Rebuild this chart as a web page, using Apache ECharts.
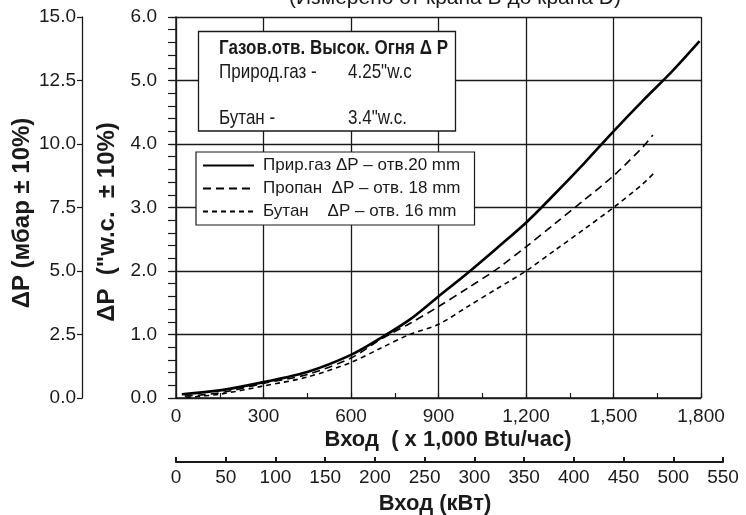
<!DOCTYPE html>
<html>
<head>
<meta charset="utf-8">
<script src="https://cdn.jsdelivr.net/npm/echarts@6/dist/echarts.min.js"></script>
<style>
  * { margin: 0; padding: 0; box-sizing: border-box; }
  body { background: #fff; }
  #chart { width: 746px; height: 515px; }
</style>
</head>
<body>
<div id="chart"></div>
<script>
// вход, x 1,000 Btu/час  /  ΔP, "w.c.
const gasInput = [20, 150, 300, 450, 600, 700, 800, 900, 1000, 1100, 1200, 1300, 1400, 1500, 1600, 1700, 1795]
const gasDp = [0.06, 0.12, 0.25, 0.41, 0.68, 0.94, 1.23, 1.6, 1.97, 2.36, 2.76, 3.22, 3.7, 4.2, 4.68, 5.14, 5.62]
const propaneInput = [30, 150, 300, 450, 600, 700, 800, 900, 1000, 1100, 1200, 1300, 1400, 1500, 1600, 1635]
const propaneDp = [0.03, 0.08, 0.23, 0.37, 0.63, 0.92, 1.17, 1.44, 1.73, 2.03, 2.38, 2.75, 3.12, 3.5, 3.95, 4.14]
const butaneInput = [35, 150, 300, 450, 600, 700, 800, 900, 1000, 1100, 1200, 1300, 1400, 1500, 1600, 1645]
const butaneDp = [0.01, 0.06, 0.19, 0.33, 0.56, 0.78, 1.0, 1.16, 1.44, 1.72, 2.0, 2.33, 2.66, 3.0, 3.37, 3.57]

const seriesNames = ['Прир.газ ΔP – отв.20 mm', 'Пропан  ΔP – отв. 18 mm', 'Бутан    ΔP – отв. 16 mm']
const boxTitle = 'Газов.отв. Высок. Огня Δ P'
const boxRows = [['Природ.газ -', '4.25"w.c'], ['Бутан -', '3.4"w.c.']]

const sans = '"Liberation Sans", Arial, sans-serif'
const ink = '#1a1a1a'
const squeeze = 0.81 // шрифт на картинке узкий, сжимаем по горизонтали

const pairs = (xs, ys) => xs.map((x, i) => [x, ys[i]])

const boxText = (x, y, text, bold) => ({
  type: 'text',
  x: x,
  y: y,
  z: 101,
  scaleX: squeeze,
  style: { text: text, verticalAlign: 'middle', fill: ink, font: (bold ? 'bold ' : '') + '21px ' + sans }
})

const chart = echarts.init(document.getElementById('chart'))

chart.setOption({
  animation: false,
  grid: [
    { left: 176, top: 17, width: 525, height: 381 },
    { left: 176, top: 461, width: 547, height: 1 }
  ],
  legend: {
    orient: 'vertical',
    left: 196,
    top: 152,
    padding: [5, 14, 5, 6],
    itemGap: 6,
    itemWidth: 51,
    itemHeight: 14,
    borderColor: ink,
    borderWidth: 1.2,
    borderRadius: 0,
    backgroundColor: '#fff',
    itemStyle: { opacity: 0 },
    textStyle: { fontFamily: sans, fontSize: 17, color: ink, padding: [0, 0, 0, 4] },
    data: seriesNames
  },
  xAxis: [
    {
      gridIndex: 0,
      type: 'value',
      min: 0,
      max: 1800,
      interval: 300,
      axisLine: { lineStyle: { color: ink, width: 1.5 } },
      axisTick: { show: false },
      axisLabel: {
        margin: 9,
        color: ink,
        fontFamily: sans,
        fontSize: 19,
        formatter: v => v.toLocaleString('en-US')
      },
      splitLine: { show: true, lineStyle: { color: ink, width: 1.3 } }
    },
    {
      // минорные риски через 150
      gridIndex: 0,
      type: 'value',
      min: 0,
      max: 1800,
      interval: 150,
      position: 'bottom',
      axisLine: { show: false },
      axisTick: { inside: true, length: 5, lineStyle: { color: ink, width: 1.2 } },
      axisLabel: { show: false },
      splitLine: { show: false }
    },
    {
      gridIndex: 1,
      type: 'value',
      min: 0,
      max: 550,
      interval: 50,
      position: 'bottom',
      axisLine: { lineStyle: { color: ink, width: 2 } },
      axisTick: { inside: true, length: 5, lineStyle: { color: ink, width: 2 } },
      axisLabel: { margin: 6, color: ink, fontFamily: sans, fontSize: 19 },
      splitLine: { show: false }
    }
  ],
  yAxis: [
    {
      gridIndex: 0,
      type: 'value',
      min: 0,
      max: 6,
      interval: 1,
      axisLine: { show: true, lineStyle: { color: ink, width: 1.5 } },
      axisTick: { show: true, length: 6, lineStyle: { color: ink, width: 1.2 } },
      axisLabel: { margin: 19, color: ink, fontFamily: sans, fontSize: 19, formatter: v => v.toFixed(1) },
      splitLine: { show: true, lineStyle: { color: ink, width: 1.3 } }
    },
    {
      gridIndex: 0,
      type: 'value',
      min: 0,
      max: 6,
      interval: 0.2,
      axisLine: { show: false },
      axisTick: { show: true, inside: true, length: 8, lineStyle: { color: ink, width: 1.2 } },
      axisLabel: { show: false },
      splitLine: { show: false }
    },
    {
      // мбар
      gridIndex: 0,
      type: 'value',
      position: 'left',
      offset: 94,
      min: 0,
      max: 15,
      interval: 2.5,
      axisLine: { show: true, lineStyle: { color: ink, width: 1.3 } },
      axisTick: { show: true, length: 5, lineStyle: { color: ink, width: 1.2 } },
      axisLabel: { margin: 6, color: ink, fontFamily: sans, fontSize: 19, formatter: v => v.toFixed(1) },
      splitLine: { show: false }
    },
    { gridIndex: 1, type: 'value', min: 0, max: 1, show: false }
  ],
  series: [
    {
      name: seriesNames[0],
      type: 'line',
      smooth: 0.3,
      symbol: 'none',
      lineStyle: { color: '#000', width: 2.6 },
      itemStyle: { color: '#000' },
      data: pairs(gasInput, gasDp)
    },
    {
      name: seriesNames[1],
      type: 'line',
      smooth: 0.3,
      symbol: 'none',
      lineStyle: { color: '#000', width: 1.6, type: [8, 5] },
      itemStyle: { color: '#000' },
      data: pairs(propaneInput, propaneDp)
    },
    {
      name: seriesNames[2],
      type: 'line',
      smooth: 0.3,
      symbol: 'none',
      lineStyle: { color: '#000', width: 1.6, type: [5, 4] },
      itemStyle: { color: '#000' },
      data: pairs(butaneInput, butaneDp)
    }
  ],
  graphic: [
    {
      type: 'text',
      x: 455,
      y: -2,
      z: 100,
      style: { text: '(Измерено от крана В до крана D)', align: 'center', verticalAlign: 'middle', fill: ink, font: '21px ' + sans }
    },
    {
      type: 'rect',
      z: 100,
      shape: { x: 198.5, y: 31.5, width: 257, height: 99.5 },
      style: { fill: '#fff', stroke: ink, lineWidth: 1.3 }
    },
    boxText(219, 48, boxTitle, true),
    boxText(219, 72, boxRows[0][0]),
    boxText(348, 72, boxRows[0][1]),
    boxText(219, 118, boxRows[1][0]),
    boxText(348, 118, boxRows[1][1]),
    {
      type: 'text',
      x: 22,
      y: 213,
      rotation: Math.PI / 2,
      style: { text: 'ΔP (мбар ± 10%)', align: 'center', verticalAlign: 'middle', fill: ink, font: 'bold 24px ' + sans }
    },
    {
      type: 'text',
      x: 107,
      y: 222,
      rotation: Math.PI / 2,
      style: { text: 'ΔP  (\"w.c.  ± 10%)', align: 'center', verticalAlign: 'middle', fill: ink, font: 'bold 24px ' + sans }
    },
    {
      type: 'text',
      x: 448,
      y: 440,
      style: { text: 'Вход  ( x 1,000 Btu/час)', align: 'center', verticalAlign: 'middle', fill: ink, font: 'bold 22px ' + sans }
    },
    {
      type: 'text',
      x: 435,
      y: 504,
      style: { text: 'Вход (кВт)', align: 'center', verticalAlign: 'middle', fill: ink, font: 'bold 22px ' + sans }
    }
  ]
})
</script>
</body>
</html>
